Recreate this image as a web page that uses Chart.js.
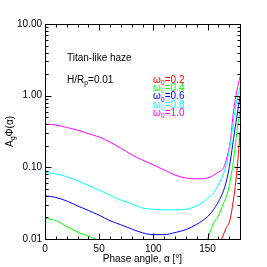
<!DOCTYPE html>
<html><head><meta charset="utf-8">
<script src="https://cdn.jsdelivr.net/npm/chart.js@4/dist/chart.umd.min.js"></script>
<style>html,body{margin:0;padding:0;background:#fff}</style>
</head><body>
<canvas id="c" width="267" height="267" style="width:267px;height:267px;display:block"></canvas>
<script>
// Phase angle (deg) and A_g*Phi(alpha) values for each single-scattering albedo
const angles_w10 = [0,10,20,30,40,50,60,70,80,90,100,110,120,130,140,150,160,165,168,171,174,177,180];
const values_w10 = [0.40,0.39,0.36,0.33,0.295,0.265,0.225,0.185,0.15,0.126,0.108,0.092,0.078,0.071,0.069,0.071,0.086,0.10,0.14,0.23,0.60,1.15,1.83];

const angles_w08 = [0,10,20,30,40,50,60,70,80,90,100,110,120,130,140,145,150,155,160,165,168,171,174,177,180];
const values_w08 = [0.085,0.081,0.074,0.065,0.056,0.048,0.041,0.035,0.031,0.027,0.026,0.0254,0.0255,0.026,0.029,0.032,0.037,0.043,0.057,0.083,0.12,0.21,0.45,0.85,1.33];

const angles_w06 = [0,10,20,30,40,50,60,70,80,90,100,110,120,130,140,150,155,160,165,168,171,174,177,180];
const values_w06 = [0.040,0.038,0.034,0.029,0.025,0.0215,0.018,0.0158,0.0138,0.0122,0.0115,0.0115,0.0123,0.0135,0.016,0.0205,0.025,0.033,0.048,0.07,0.12,0.25,0.50,0.97];

const angles_w04 = [0,10,20,30,40,46,50,100,145,150,155,160,165,169,172,174,177,180];
const values_w04 = [0.0195,0.018,0.015,0.0125,0.011,0.010,0.0093,0.005,0.0088,0.0101,0.016,0.021,0.032,0.047,0.08,0.126,0.30,0.63];

const angles_w02 = [150,163,167,171,173.5,175.6,178.6,180];
const values_w02 = [0.004,0.010,0.014,0.019,0.032,0.054,0.157,0.31];

const xTickValues = [0,50,100,150];
const yTickValues = [0.01,0.1,1,10];
const seriesLabels = ['0.2','0.4','0.6','0.8','1.0'];
const seriesColors = ['#ff0000','#00ff00','#0000ff','#00ffff','#ff00ff'];

const FONT = '"Liberation Sans", Arial, sans-serif';

function pts(a, v){ return a.map((x,i)=>({x:x,y:v[i]})); }
function ds(a, v, color){
  return {data: pts(a,v), borderColor: color, borderWidth: 1, pointRadius: 0, showLine: true, fill:false, cubicInterpolationMode:'monotone'};
}

const deco = {
  id: 'deco',
  afterDraw(chart){
    const ctx = chart.ctx, ca = chart.chartArea;
    const xs = chart.scales.x, ys = chart.scales.y;
    ctx.save();
    ctx.strokeStyle = '#000'; ctx.lineWidth = 1;
    const L = Math.round(ca.left)+0.5, R = Math.round(ca.right)+0.5, T = Math.round(ca.top)+0.5, B = Math.round(ca.bottom)+0.5;
    ctx.strokeRect(L, T, R-L, B-T);
    ctx.beginPath();
    for (let v=0; v<=180; v+=10){
      const p = Math.round(xs.getPixelForValue(v))+0.5;
      const len = (v%50===0)?6:3;
      ctx.moveTo(p,B); ctx.lineTo(p,B-len);
      ctx.moveTo(p,T); ctx.lineTo(p,T+len);
    }
    for (let d=0.01; d<=10.0001; d*=10){
      for (let k=1;k<=9;k++){
        const v = k*d; if (v>10.0001) break;
        const p = Math.round(ys.getPixelForValue(v))+0.5;
        const len = (k===1)?6:3;
        ctx.moveTo(L,p); ctx.lineTo(L+len,p);
        ctx.moveTo(R,p); ctx.lineTo(R-len,p);
      }
    }
    ctx.stroke();

    function subText(parts, x, y, color, align){
      let w = 0;
      parts.forEach(([t,s])=>{ ctx.font = (s?'7px ':'10px ')+FONT; w += ctx.measureText(t).width; });
      let cx = align==='center' ? x - w/2 : x;
      ctx.fillStyle = color; ctx.textBaseline = 'middle'; ctx.textAlign = 'left';
      parts.forEach(([t,s])=>{
        ctx.font = (s?'7px ':'10px ')+FONT;
        ctx.fillText(t, cx, s? y+3 : y);
        cx += ctx.measureText(t).width;
      });
    }
    subText([['Titan-like haze',false]], 67, 58, '#000');
    subText([['H/R',false],['p',true],['=0.01',false]], 67, 80, '#000');
    seriesLabels.forEach((lab,i)=>{
      subText([['ω',false],['0',true],['='+lab,false]], 153, 80+8.3*i, seriesColors[i]);
    });
    subText([['Phase angle, α [°]',false]], (ca.left+ca.right)/2, 259, '#000', 'center');
    ctx.save();
    ctx.translate(10, (ca.top+ca.bottom)/2);
    ctx.rotate(-Math.PI/2);
    subText([['A',false],['g',true],['Φ(α)',false]], 0, 0, '#000', 'center');
    ctx.restore();
    ctx.restore();
  }
};

new Chart(document.getElementById('c'), {
  type: 'scatter',
  data: { datasets: [
    ds(angles_w02, values_w02, seriesColors[0]),
    ds(angles_w04, values_w04, seriesColors[1]),
    ds(angles_w06, values_w06, seriesColors[2]),
    ds(angles_w08, values_w08, seriesColors[3]),
    ds(angles_w10, values_w10, seriesColors[4])
  ]},
  options: {
    responsive: false, animation: false, devicePixelRatio: 1,
    layout: { padding: { top: 24, right: 27, left: 0, bottom: 0 } },
    plugins: { legend: {display:false}, tooltip: {enabled:false} },
    scales: {
      x: {
        type: 'linear', min: 0, max: 180,
        grid: { display: false, drawTicks: false }, border: { display: false },
        afterBuildTicks: s => { s.ticks = xTickValues.map(v=>({value:v})); },
        afterFit: s => { s.height = 28; },
        ticks: { color:'#000', font:{family:FONT, size:10}, padding: 4, maxRotation:0, autoSkip:false },
        title: { display: false }
      },
      y: {
        type: 'logarithmic', min: 0.01, max: 10,
        grid: { display: false, drawTicks: false }, border: { display: false },
        afterBuildTicks: s => { s.ticks = yTickValues.map(v=>({value:v})); },
        afterFit: s => { s.width = 45; },
        ticks: { color:'#000', font:{family:FONT, size:10}, padding: 3, autoSkip:false, callback: v => Number(v).toFixed(2) }
      }
    }
  },
  plugins: [deco]
});
</script>
</body></html>
